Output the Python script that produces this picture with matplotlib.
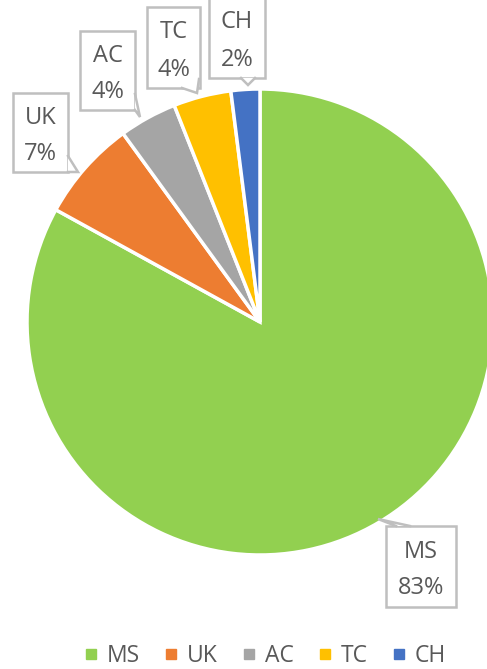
import numpy as np
import matplotlib
matplotlib.use("Agg")
from matplotlib import pyplot as plt
from matplotlib.lines import Line2D
from matplotlib.patches import Rectangle, Polygon

# data
labels = ["MS", "UK", "AC", "TC", "CH"]
values = [83, 7, 4, 4, 2]
colors = ["#92d050", "#ed7d31", "#a5a5a5", "#ffc000", "#4472c4"]

W, H = 487, 669
plt.rcParams['font.family'] = ['Open Sans', 'DejaVu Sans']
txt_col = "#595959"
box_col = "#bfbfbf"

fig = plt.figure(figsize=(W/100, H/100), dpi=100)
ax = fig.add_axes([0, 0, 1, 1])

cx, cy, r = 260, H-322, 233
wedges, _ = ax.pie(values, colors=colors, startangle=90, counterclock=False,
                   center=(cx, cy), radius=r,
                   wedgeprops=dict(edgecolor="white", linewidth=2.5))
ax.set_xlim(0, W)
ax.set_ylim(0, H)
ax.set_aspect("equal")
ax.axis("off")

# callout boxes, pixel coords with top-left origin: x0, x1, y0, y1
boxes = {"MS": (386, 456, 526, 607), "UK": (13, 68, 93, 172),
         "AC": (80, 135, 31, 110), "TC": (147, 200, 7, 88),
         "CH": (209, 265, -3, 78)}
# pointer: base point 1, base point 2, tip
pointers = {"MS": ((396, 526), (410, 526), (378, 519)),
            "UK": ((68, 156), (68, 172), (78, 172)),
            "AC": ((135, 94), (135, 110), (140, 117)),
            "TC": ((182, 88), (199, 79), (197, 93)),
            "CH": ((241, 78), (255, 78), (248, 85))}

total = sum(values)
for lab, v in zip(labels, values):
    x0, x1, y0, y1 = boxes[lab]
    ax.add_patch(Rectangle((x0, H-y1), x1-x0, y1-y0, fc="white", ec=box_col,
                           lw=1.8, zorder=5))
    p1, p2, tip = pointers[lab]
    pts = [(p[0], H-p[1]) for p in (p1, tip, p2)]
    ax.add_patch(Polygon(pts, closed=True, fc="white", ec="none", zorder=6))
    ax.plot([pts[0][0], pts[1][0], pts[2][0]], [pts[0][1], pts[1][1], pts[2][1]],
            color=box_col, lw=1.8, zorder=7, solid_joinstyle="miter")
    mx, my = (x0+x1)/2, H-(y0+y1)/2
    ax.text(mx, my+15, lab, ha="center", va="center", fontsize=17,
            color=txt_col, zorder=8)
    ax.text(mx, my-22, f"{round(100*v/total)}%", ha="center", va="center",
            fontsize=17, color=txt_col, zorder=8)

handles = [Line2D([], [], marker="s", ls="", color=c, markersize=7) for c in colors]
ax.legend(handles, labels, loc="center", bbox_to_anchor=(265/W, 1-656/H),
          ncol=5, frameon=False, fontsize=16.5, handletextpad=0.4,
          columnspacing=1.05, labelcolor=txt_col, handlelength=0.6)

fig.savefig("out.png", dpi=100)
